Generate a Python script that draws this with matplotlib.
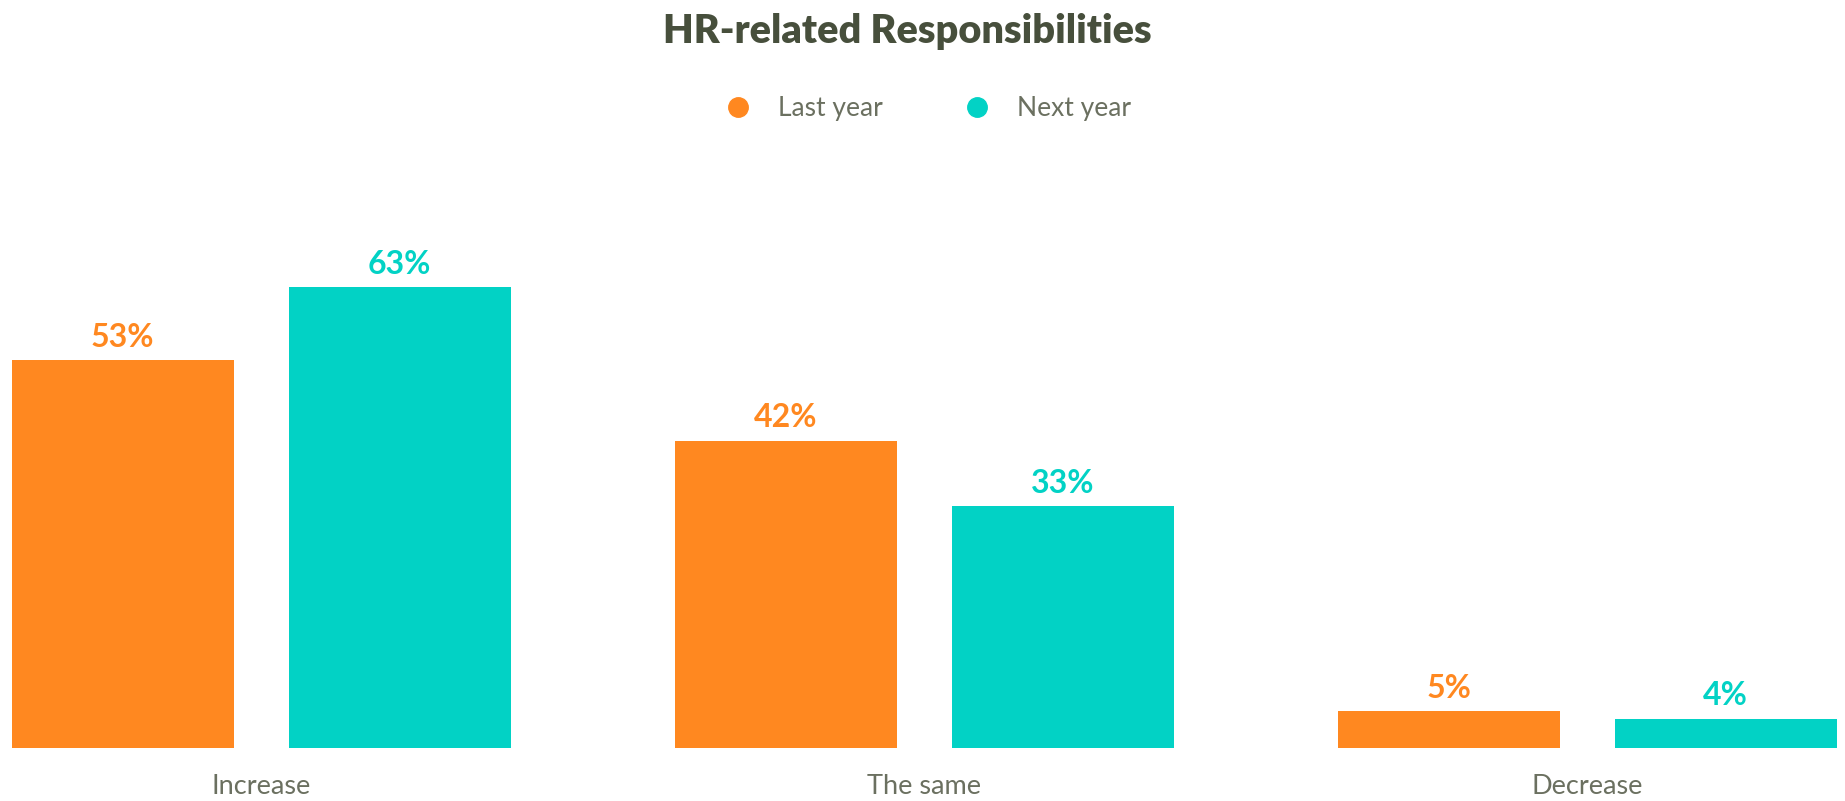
import matplotlib.pyplot as plt
from matplotlib.lines import Line2D
import numpy as np

plt.rcParams['font.family'] = ['Lato', 'DejaVu Sans']

categories = ['Increase', 'The same', 'Decrease']
last_year = [53, 42, 5]
next_year = [63, 33, 4]
series_names = ['Last year', 'Next year']

orange = '#FF8820'
teal = '#02D2C5'
title_color = '#474F3C'
text_color = '#6B7060'


def main():
    fig = plt.figure(figsize=(18.45, 8.01), dpi=100)
    ax = fig.add_axes([0, 0.0662, 1, 0.7465])

    x = np.arange(len(categories))
    width = 0.335
    offset = 0.209

    bars1 = ax.bar(x - offset, last_year, width, color=orange)
    bars2 = ax.bar(x + offset, next_year, width, color=teal)

    # value labels above bars
    for bars, vals, col in [(bars1, last_year, orange), (bars2, next_year, teal)]:
        for b, v in zip(bars, vals):
            ax.annotate('{}%'.format(v), (b.get_x() + b.get_width() / 2, v),
                        xytext=(0, 6), textcoords='offset points',
                        ha='center', va='bottom', fontsize=23, fontweight='bold',
                        color=col)

    ax.set_xlim(-0.394, 2.389)
    ax.set_ylim(0, 81.7)
    ax.set_xticks(x)
    ax.set_xticklabels(categories, fontsize=19.5, color=text_color)
    ax.tick_params(axis='x', length=0, pad=19)
    ax.set_yticks([])
    for s in ax.spines.values():
        s.set_visible(False)

    fig.text(907 / 1845, 1 - 31 / 801, 'HR-related Responsibilities', ha='center', va='center',
             fontsize=28.5, fontweight='heavy', color=title_color)

    handles = [Line2D([], [], marker='o', linestyle='none', markersize=14, color=orange),
               Line2D([], [], marker='o', linestyle='none', markersize=14, color=teal)]
    leg = fig.legend(handles, series_names, loc='center',
                     bbox_to_anchor=(928 / 1845, 1 - 108.5 / 801),
                     ncol=2, frameon=False, fontsize=19, handlelength=1.0,
                     handletextpad=1.0, columnspacing=3.1)
    for t in leg.get_texts():
        t.set_color(text_color)

    fig.savefig('out.png', dpi=100)


if __name__ == '__main__':
    main()
